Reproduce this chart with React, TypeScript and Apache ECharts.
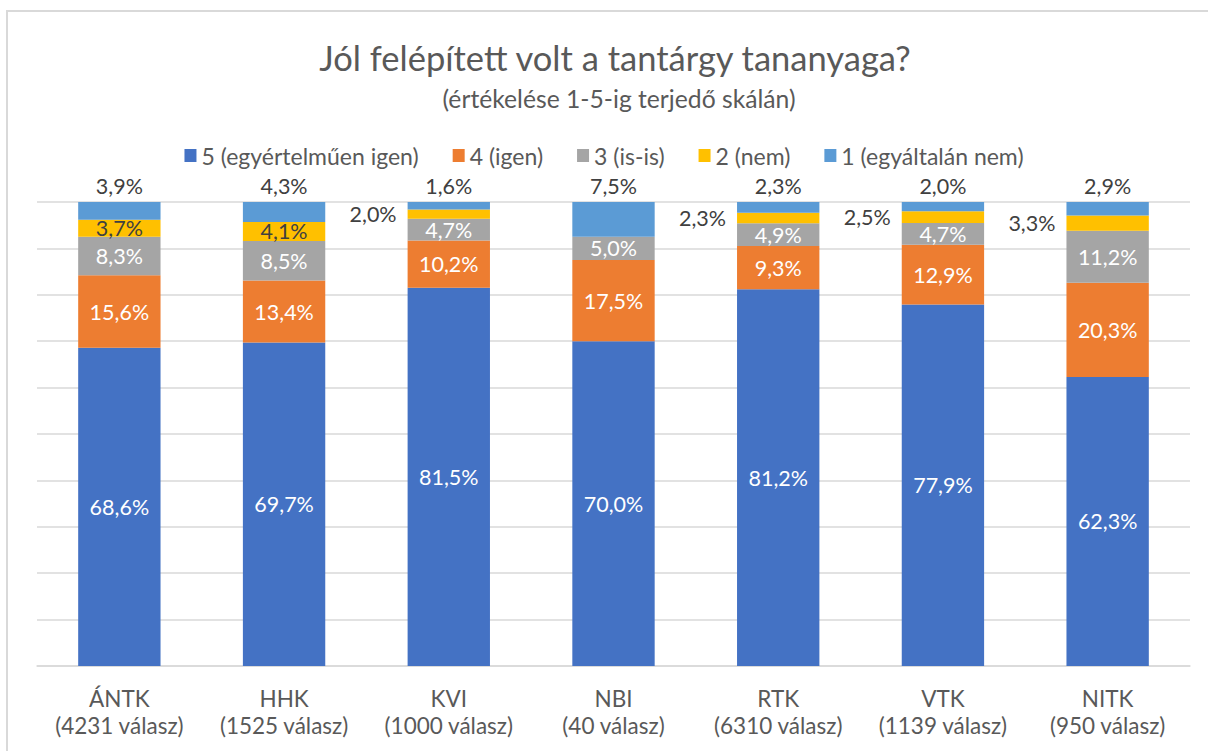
import React, { useEffect, useRef } from "react";
import * as echarts from "echarts";

const categories = [
  "ÁNTK\n(4231 válasz)",
  "HHK\n(1525 válasz)",
  "KVI\n(1000 válasz)",
  "NBI\n(40 válasz)",
  "RTK\n(6310 válasz)",
  "VTK\n(1139 válasz)",
  "NITK\n(950 válasz)",
];
const seriesNames = ["5 (egyértelműen igen)", "4 (igen)", "3 (is-is)", "2 (nem)", "1 (egyáltalán nem)"];
const v5 = [68.6, 69.7, 81.5, 70.0, 81.2, 77.9, 62.3];
const v4 = [15.6, 13.4, 10.2, 17.5, 9.3, 12.9, 20.3];
const v3 = [8.3, 8.5, 4.7, 5.0, 4.9, 4.7, 11.2];
const v2 = [3.7, 4.1, 2.0, 0, 2.3, 2.5, 3.3];
const v1 = [3.9, 4.3, 1.6, 7.5, 2.3, 2.0, 2.9];
// categories whose "2 (nem)" label sits left of the bar
const leftLabelIdx = [2, 4, 5, 6];

const colors = ["#4472C4", "#ED7D31", "#A5A5A5", "#FFC000", "#5B9BD5"];
const FONT = "Lato";
const fmt = (p: any) => (p.value ? String(Number(p.value).toFixed(1)).replace(".", ",") + "%" : "");

export default function App() {
  const ref = useRef<HTMLDivElement>(null);
  useEffect(() => {
    const chart = echarts.init(ref.current!, null, { renderer: "svg" });
    const lblSize = 21.5;
    const mk = (i: number, data: any[], label: any) => ({
      name: seriesNames[i],
      type: "bar",
      stack: "total",
      barCategoryGap: "50%",
      itemStyle: { color: colors[i] },
      label: { show: true, fontFamily: FONT, fontSize: lblSize, formatter: fmt, ...label },
      data,
    });
    const d2 = v2.map((v, i) =>
      leftLabelIdx.includes(i)
        ? { value: v, label: { position: "left", distance: 11, color: "#404040" } }
        : v === 0
        ? { value: v, label: { show: false } }
        : v
    );
    chart.setOption({
      animation: false,
      backgroundColor: "#ffffff",
      textStyle: { fontFamily: FONT },
      title: [
        {
          text: "Jól felépített volt a tantárgy tananyaga?",
          left: 610,
          textAlign: "center",
          top: 35,
          textStyle: { fontFamily: FONT, fontSize: 34.5, fontWeight: "normal", color: "#595959" },
        },
        {
          text: "(értékelése 1-5-ig terjedő skálán)",
          left: 614,
          textAlign: "center",
          top: 81,
          textStyle: { fontFamily: FONT, fontSize: 24.7, fontWeight: "normal", color: "#595959" },
        },
      ],
      legend: {
        top: 139,
        left: "center",
        itemWidth: 12,
        itemHeight: 13,
        itemGap: 34,
        icon: "rect",
        textStyle: { fontFamily: FONT, fontSize: 23, color: "#595959" },
        data: seriesNames,
      },
      graphic: [
        {
          type: "rect",
          shape: { x: 7, y: 11, width: 1400, height: 1000 },
          style: { fill: "none", stroke: "#d9d9d9", lineWidth: 2 },
          silent: true,
        },
      ],
      grid: { left: 37, right: 18, top: 202, height: 464 },
      xAxis: {
        type: "category",
        data: categories,
        axisLine: { lineStyle: { color: "#d9d9d9", width: 1.5 } },
        axisTick: { show: false },
        axisLabel: {
          interval: 0,
          hideOverlap: false,
          fontFamily: FONT,
          fontSize: 22.5,
          color: "#595959",
          lineHeight: 27,
          margin: 19,
        },
      },
      yAxis: {
        type: "value",
        min: 0,
        max: 100,
        interval: 10,
        axisLabel: { show: false },
        axisLine: { show: false },
        axisTick: { show: false },
        splitLine: { lineStyle: { color: "#d9d9d9", width: 1.5 } },
      },
      series: [
        mk(0, v5, { position: "inside", color: "#ffffff" }),
        mk(1, v4, { position: "inside", color: "#ffffff" }),
        mk(2, v3, { position: "inside", color: "#ffffff" }),
        mk(3, d2, { position: "inside", color: "#404040" }),
        mk(4, v1, { position: "top", distance: 5, color: "#404040" }),
      ],
    });
    return () => chart.dispose();
  }, []);
  return (
    <div
      ref={ref}
      style={{ position: "fixed", left: 0, top: 0, width: 1208, height: 751 }}
    />
  );
}
